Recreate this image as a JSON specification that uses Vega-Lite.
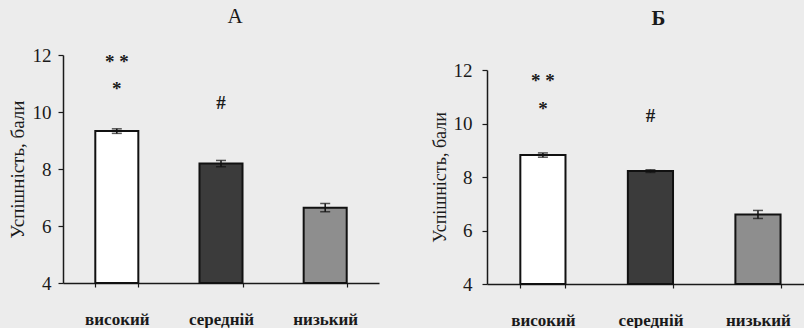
{
  "$schema": "https://vega.github.io/schema/vega-lite/v6.json",
  "background": "#ececec",
  "padding": {"left": 8, "top": 6, "right": 0, "bottom": 0},
  "spacing": 52,
  "config": {
    "view": {"stroke": null},
    "font": "Liberation Serif",
    "axis": {"domainColor": "#1a1a1a", "tickColor": "#1a1a1a", "labelColor": "#1a1a1a", "titleColor": "#1a1a1a", "grid": false, "domainWidth": 1.5, "tickWidth": 1.2},
    "title": {"font": "Liberation Serif", "fontSize": 21, "fontWeight": "normal", "color": "#1a1a1a"}
  },
  "datasets": {
    "a": [
      {"level": "високий", "value": 9.33, "lo": 9.25, "hi": 9.41},
      {"level": "середній", "value": 8.19, "lo": 8.08, "hi": 8.3},
      {"level": "низький", "value": 6.64, "lo": 6.5, "hi": 6.79}
    ],
    "b": [
      {"level": "високий", "value": 8.82, "lo": 8.74, "hi": 8.9},
      {"level": "середній", "value": 8.22, "lo": 8.17, "hi": 8.27},
      {"level": "низький", "value": 6.6, "lo": 6.45, "hi": 6.75}
    ],
    "annA": [
      {"level": "високий", "label": "* *", "pos": 11.75},
      {"level": "високий", "label": "*", "pos": 10.8},
      {"level": "середній", "label": "#", "pos": 10.3}
    ],
    "annB": [
      {"level": "високий", "label": "* *", "pos": 11.6},
      {"level": "високий", "label": "*", "pos": 10.55},
      {"level": "середній", "label": "#", "pos": 10.28}
    ]
  },
  "hconcat": [
    {
      "width": 316,
      "height": 228,
      "title": {"text": "А", "offset": 19, "dx": 14},
      "encoding": {
        "x": {"field": "level", "type": "nominal", "sort": ["високий", "середній", "низький"],
          "scale": {"paddingInner": 0.587, "paddingOuter": 0.31},
          "axis": {"title": null, "labelAngle": 0, "labelFont": "Liberation Serif", "labelFontSize": 17, "labelFontWeight": "bold", "labelPadding": 24, "tickBand": "extent", "tickSize": 4}}
      },
      "layer": [
        {
          "data": {"name": "a"},
          "mark": {"type": "bar", "stroke": "#111111", "strokeWidth": 2},
          "encoding": {
            "y": {"field": "value", "type": "quantitative", "scale": {"domain": [4, 12], "nice": false, "zero": false},
              "axis": {"values": [4, 6, 8, 10, 12], "title": "Успішність, бали", "titleFont": "Liberation Serif", "titleFontSize": 19, "titleFontWeight": "normal", "titlePadding": 5, "labelFont": "Liberation Serif", "labelFontSize": 19, "tickSize": 5, "labelPadding": 7}},
            "y2": {"datum": 4},
            "color": {"field": "level", "type": "nominal", "sort": ["високий", "середній", "низький"], "scale": {"domain": ["високий", "середній", "низький"], "range": ["#ffffff", "#3b3b3b", "#8e8e8e"]}, "legend": null}
          }
        },
        {
          "data": {"name": "a"},
          "mark": {"type": "rule", "color": "#111111", "strokeWidth": 1.5},
          "encoding": {"y": {"field": "lo", "type": "quantitative"}, "y2": {"field": "hi"}}
        },
        {
          "data": {"name": "a"},
          "mark": {"type": "tick", "color": "#111111", "thickness": 1.5, "size": 10},
          "encoding": {"y": {"field": "hi", "type": "quantitative"}}
        },
        {
          "data": {"name": "a"},
          "mark": {"type": "tick", "color": "#111111", "thickness": 1.5, "size": 10},
          "encoding": {"y": {"field": "lo", "type": "quantitative"}}
        },
        {
          "data": {"name": "annA"},
          "mark": {"type": "text", "font": "Liberation Serif", "fontSize": 19, "fontWeight": "bold", "color": "#1a1a1a", "baseline": "middle"},
          "encoding": {"y": {"field": "pos", "type": "quantitative"}, "text": {"field": "label"}}
        }
      ]
    },
    {
      "width": 317,
      "height": 229,
      "title": {"text": "Б", "offset": 26, "dx": 13, "fontWeight": "bold"},
      "encoding": {
        "x": {"field": "level", "type": "nominal", "sort": ["високий", "середній", "низький"],
          "scale": {"paddingInner": 0.58, "paddingOuter": 0.264, "align": 0.587},
          "axis": {"title": null, "labelAngle": 0, "labelFont": "Liberation Serif", "labelFontSize": 17, "labelFontWeight": "bold", "labelPadding": 24, "tickBand": "extent", "tickSize": 4}}
      },
      "layer": [
        {
          "data": {"name": "b"},
          "mark": {"type": "bar", "stroke": "#111111", "strokeWidth": 2},
          "encoding": {
            "y": {"field": "value", "type": "quantitative", "scale": {"domain": [4, 12], "nice": false, "zero": false, "range": [229, 15]},
              "axis": {"values": [4, 6, 8, 10, 12], "title": "Успішність, бали", "titleFont": "Liberation Serif", "titleFontSize": 18, "titleFontWeight": "normal", "titlePadding": 4, "labelFont": "Liberation Serif", "labelFontSize": 19, "tickSize": 5, "labelPadding": 10}},
            "y2": {"datum": 4},
            "color": {"field": "level", "type": "nominal", "sort": ["високий", "середній", "низький"], "scale": {"domain": ["високий", "середній", "низький"], "range": ["#ffffff", "#3b3b3b", "#8e8e8e"]}, "legend": null}
          }
        },
        {
          "data": {"name": "b"},
          "mark": {"type": "rule", "color": "#111111", "strokeWidth": 1.5},
          "encoding": {"y": {"field": "lo", "type": "quantitative"}, "y2": {"field": "hi"}}
        },
        {
          "data": {"name": "b"},
          "mark": {"type": "tick", "color": "#111111", "thickness": 1.5, "size": 10},
          "encoding": {"y": {"field": "hi", "type": "quantitative"}}
        },
        {
          "data": {"name": "b"},
          "mark": {"type": "tick", "color": "#111111", "thickness": 1.5, "size": 10},
          "encoding": {"y": {"field": "lo", "type": "quantitative"}}
        },
        {
          "data": {"name": "annB"},
          "mark": {"type": "text", "font": "Liberation Serif", "fontSize": 19, "fontWeight": "bold", "color": "#1a1a1a", "baseline": "middle"},
          "encoding": {"y": {"field": "pos", "type": "quantitative"}, "text": {"field": "label"}}
        }
      ]
    }
  ]
}
